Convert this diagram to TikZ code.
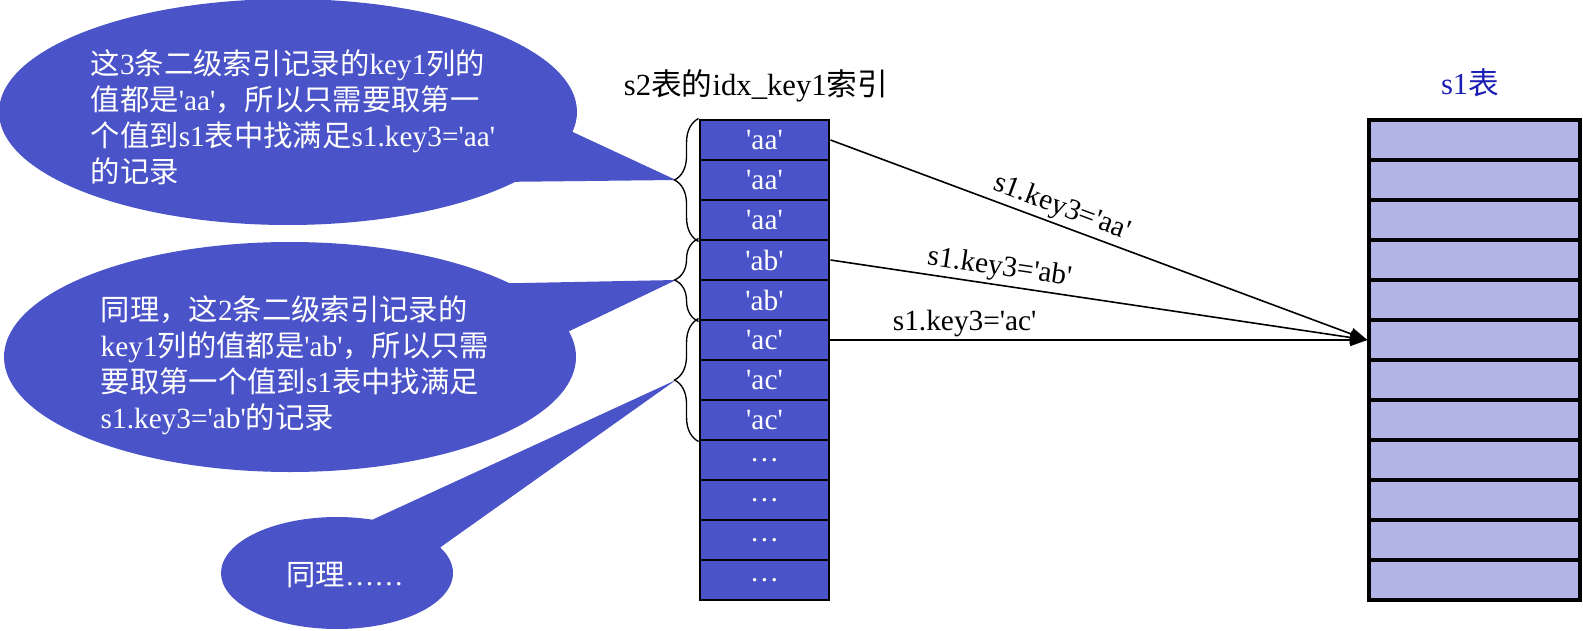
\documentclass[tikz,border=0pt]{standalone}
\usepackage{fontspec}
\setmainfont{Liberation Serif}
\newfontfamily\cjkfont{Noto Sans CJK SC}
\usetikzlibrary{shapes.callouts,decorations.pathreplacing,arrows.meta}
\newcommand{\zhtext}[1]{{\cjkfont #1}}
\newcommand{\sq}{\textquotesingle}
\definecolor{idxblue}{RGB}{74,83,200}
\definecolor{rowlav}{RGB}{178,180,230}
\definecolor{titleblue}{RGB}{26,30,180}
\begin{document}
\begin{tikzpicture}[x=0.75pt,y=-0.75pt,
  idxrow/.style={draw=black,line width=2.2pt,fill=idxblue,minimum width=96.75pt,minimum height=30pt,inner sep=0pt,text=white,font=\fontsize{22}{26}\selectfont},
  tblrow/.style={draw=black,line width=2.4pt,fill=rowlav,minimum width=158.25pt,minimum height=30pt,inner sep=0pt},
  bubble/.style={ellipse callout,fill=idxblue,draw=none,inner sep=0pt},
  bubbletext/.style={text=white,align=left,font=\fontsize{22}{27}\selectfont,inner sep=0pt},
  grp/.style={decorate,decoration={brace,amplitude=18pt},line width=1pt},
  arr/.style={-{Triangle[length=13pt,width=9pt]},line width=1.2pt},
  lbl/.style={font=\fontsize{22}{26}\selectfont,inner sep=2pt},
]
\useasboundingbox (0,0) rectangle (1583,631);

% tips of the braces
\coordinate (t1) at (676,180);
\coordinate (t2) at (676,280);
\coordinate (t3) at (676,380);

% callouts
\node[bubble,minimum width=433.5pt,minimum height=169.5pt,callout absolute pointer={(t1)},callout pointer arc=28] (c1) at (288,112) {};
\node[bubble,minimum width=429pt,minimum height=172.5pt,callout absolute pointer={(t2)},callout pointer arc=27] (c2) at (290,357) {};
\node[bubble,minimum width=174pt,minimum height=84pt,callout absolute pointer={(t3)},callout pointer arc=45] (c3) at (337,573) {};

\node[bubbletext] (c1t) at (293,117) {\zhtext{这}3\zhtext{条二级索引记录的}key1\zhtext{列的}\\
\zhtext{值都是}\sq aa\sq\zhtext{，所以只需要取第一}\\
\zhtext{个值到}s1\zhtext{表中找满足}s1.key3=\sq aa\sq\\
\zhtext{的记录}};
\node[bubbletext] (c2t) at (295,365) {\zhtext{同理，这}2\zhtext{条二级索引记录的}\\
key1\zhtext{列的值都是}\sq ab\sq\zhtext{，所以只需}\\
\zhtext{要取第一个值到}s1\zhtext{表中找满足}\\
s1.key3=\sq ab\sq\zhtext{的记录}};
\node[bubbletext] (c3t) at (345,575) {\zhtext{同理}……};

% titles
\node[font=\fontsize{23}{26}\selectfont] (ttl2) at (756,86) {s2\zhtext{表的}idx\_key1\zhtext{索引}};
\node[font=\fontsize{23}{26}\selectfont,text=titleblue] (ttl1) at (1470,83) {s1\zhtext{表}};

% s2 index column
\foreach \t [count=\i from 0] in {aa,aa,aa,ab,ab,ac,ac,ac}
  \node[idxrow] (r\i) at (764.5,{140+40*\i}) {\sq\t\sq};
\foreach \i in {8,...,11}
  \node[idxrow] (r\i) at (764.5,{140+40*\i}) {…};

% s1 table column
\foreach \i in {0,...,11}
  \node[tblrow] (s\i) at (1474.5,{140+40*\i}) {};

% braces
\draw[grp] (r2.south west) -- (r0.north west);
\draw[grp] (r4.south west) -- (r3.north west);
\draw[grp] (r7.south west) -- (r5.north west);

% arrows
\draw[arr] (r0.east) -- node[lbl,above,sloped,pos=0.42]{s1.key3=\sq aa\sq} (s5.west);
\draw[arr] (r3.east) -- node[lbl,above,sloped,pos=0.31]{s1.key3=\sq ab\sq} (s5.west);
\draw[arr] (r5.east) -- node[lbl,above,pos=0.25]{s1.key3=\sq ac\sq} (s5.west);
\end{tikzpicture}
\end{document}
